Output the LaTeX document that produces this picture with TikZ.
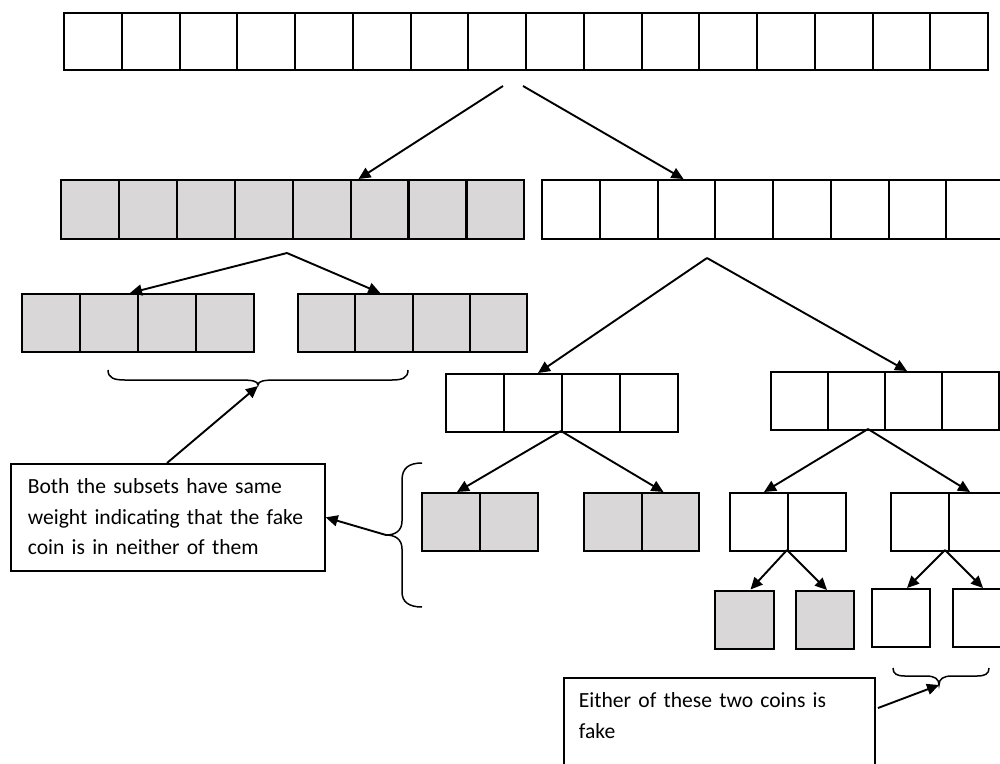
\documentclass[tikz,border=0pt]{standalone}
\usepackage{fontspec}
\setmainfont{Carlito}
\usetikzlibrary{arrows.meta,calc}
\definecolor{coingray}{RGB}{217,215,216}
\begin{document}
\begin{tikzpicture}[x=1pt,y=-1pt,
  coin/.style={draw, line width=2.2pt, inner sep=0pt, anchor=north west, minimum width=#1, minimum height=58pt, fill=white},
  coin/.default=57.75pt,
  gcoin/.style={coin=#1, fill=coingray},
  gcoin/.default=57.75pt,
  arr/.style={line width=1.9pt, -{Triangle[length=12pt,width=11pt]}},
  brc/.style={line width=1.5pt},
  note/.style={draw, line width=1.7pt, anchor=north west, align=left, inner ysep=14pt, text height=16pt, font=\fontsize{21.6}{30.5}\selectfont}]
\useasboundingbox (0,0) rectangle (1000,763);
\clip (0,0) rectangle (1000,763);
% top row: 16 coins
\foreach \i in {1,...,16}
  \node[coin, minimum height=57pt] (t\i) at ({63+(\i-1)*57.75},12) {};
% row 2
\foreach \i in {1,...,8}
  \node[gcoin=57.9pt, minimum height=59pt] (g\i) at ({60+(\i-1)*57.9},179) {};
\foreach \i in {1,...,8}
  \node[coin, minimum height=59pt] (w\i) at ({541+(\i-1)*57.75},179) {};
% row 3 (grey halves)
\foreach \i in {1,...,4}
  \node[gcoin=58pt] (gl\i) at ({21+(\i-1)*58},293) {};
\foreach \i in {1,...,4}
  \node[gcoin=57.25pt] (gr\i) at ({297+(\i-1)*57.25},293) {};
% row 4 (white halves)
\foreach \i in {1,...,4}
  \node[coin=58pt] (wl\i) at ({445+(\i-1)*58},373) {};
\foreach \i in {1,...,4}
  \node[coin=57pt] (wr\i) at ({770+(\i-1)*57},371) {};
% row 5 (pairs)
\node[gcoin=58pt] (p1) at (421,492) {};
\node[gcoin=58pt] (p2) at (479,492) {};
\node[gcoin=57.5pt] (p3) at (583,492) {};
\node[gcoin=57.5pt] (p4) at (640.5,492) {};
\node[coin=58pt] (p5) at (729,492) {};
\node[coin=58pt] (p6) at (787,492) {};
\node[coin=58pt] (p7) at (890,492) {};
\node[coin=58pt] (p8) at (948,492) {};
% row 6 (single coins)
\node[gcoin=59pt] (s1) at (713.5,589.5) {};
\node[gcoin=58pt] (s2) at (795,590) {};
\node[coin=58pt] (s3) at (871,588) {};
\node[coin=58pt] (s4) at (952,588) {};
% text boxes
\node[note, text width=280pt, inner xsep=17pt, text depth=63pt] (tb1) at (10,463)
  {\mbox{Both the subsets have same}\\\mbox{weight indicating that the fake}\\\mbox{coin is in neither of them}};
\node[note, text width=281pt, inner xsep=15pt, text depth=100pt] (tb2) at (563,677)
  {\mbox{Either of these two coins is}\\fake};
% braces
\draw[brc] (108,370) .. controls (108,378) and (114,380) .. (125,380) -- (240,380)
  .. controls (252,380) and (258,381) .. (258,385)
  .. controls (258,381) and (264,380) .. (276,380) -- (392,380)
  .. controls (402,380) and (408,378) .. (408,370);
\draw[brc] (422,463) .. controls (409,463) and (402,468) .. (402,480) -- (402,521)
  .. controls (402,531) and (395,535) .. (386,535)
  .. controls (395,535) and (402,539) .. (402,549) -- (402,592)
  .. controls (402,602) and (409,607) .. (422,607);
\draw[brc] (893,668) .. controls (893,674) and (897,676) .. (905,676) -- (926,676)
  .. controls (935,676) and (939,679) .. (939,685)
  .. controls (939,679) and (943,676) .. (952,676) -- (977,676)
  .. controls (985,676) and (989,674) .. (989,668);
% connector end points
\coordinate (a1) at (503,86);
\coordinate (a2) at (523,86);
\coordinate (a3) at (287,253);
\coordinate (a4) at (707,258);
\coordinate (a5) at (561,431);
\coordinate (a6) at (868,429);
\coordinate (a7) at (787,550);
\coordinate (a8) at (945,550);
\coordinate (bt1) at (258,386);
\coordinate (bt2) at (386,535);
\coordinate (bt3) at (939,685);
\coordinate (tb1top) at (167,463);
\coordinate (tb2out) at (878,708);
% arrows
\draw[arr] (a1) -- ($(g6.north west)+(9,0)$);
\draw[arr] (a2) -- ($(w3.north west)+(27,0)$);
\draw[arr] (a3) -- ($(gl3.north west)+(-7,0)$);
\draw[arr] (a3) -- ($(gr2.north west)+(26,0)$);
\draw[arr] (a4) -- ($(wl2.north west)+(35,0)$);
\draw[arr] (a4) -- ($(wr3.north west)+(23,0)$);
\draw[arr] (a5) -- ($(p1.north west)+(36,0)$);
\draw[arr] (a5) -- ($(p4.north west)+(23,0)$);
\draw[arr] (a6) -- ($(p5.north west)+(35,0)$);
\draw[arr] (a6) -- ($(p8.north west)+(22,0)$);
\draw[arr] (a7) -- ($(s1.north west)+(37,0)$);
\draw[arr] (a7) -- ($(s2.north west)+(32,0)$);
\draw[arr] (a8) -- ($(s3.north west)+(36,0)$);
\draw[arr] (a8) -- ($(s4.north west)+(31,0)$);
\draw[arr] (tb1top) -- (bt1);
\draw[arr] (bt2) -- (tb1.east);
\draw[arr] (tb2out) -- (bt3);
\end{tikzpicture}
\end{document}
